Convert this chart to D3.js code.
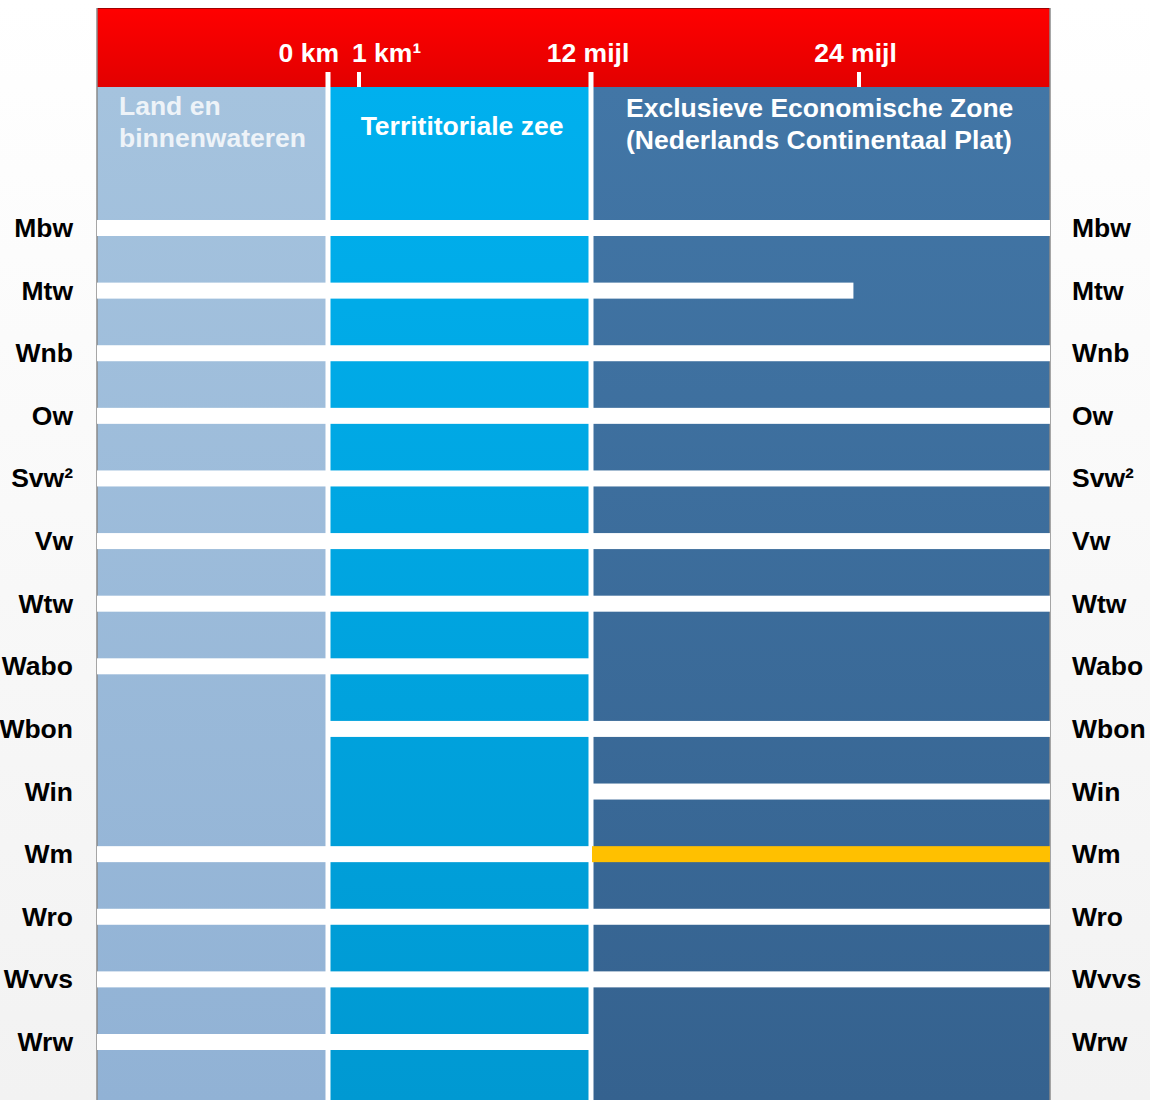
<!DOCTYPE html>
<html>
<head>
<meta charset="utf-8">
<script src="https://cdn.jsdelivr.net/npm/d3@7"></script>
<style>
  body { margin: 0; background: #fff; }
  text { font-family: "Liberation Sans", Arial, sans-serif; font-weight: bold; }
</style>
</head>
<body>
<div id="chart"></div>
<script>
const w = 1150, h = 1100

// data
const laws = ["Mbw", "Mtw", "Wnb", "Ow", "Svw²", "Vw", "Wtw", "Wabo", "Wbon", "Win", "Wm", "Wro", "Wvvs", "Wrw"]
// distance stops in nautical miles (schematic): land edge, 0 km, 1 km, 12 mijl, 24 mijl, outer edge
const stops = [-9, 0, 0.54, 12, 24, 31]
const tickLabels = ["0 km", "1 km¹", "12 mijl", "24 mijl"]
const tickValues = [0, 0.54, 12, 24]
const zoneNames = [["Land en", "binnenwateren"], ["Territitoriale zee"], ["Exclusieve Economische Zone", "(Nederlands Continentaal Plat)"]]
const zoneFrom = [-9, 0, 12]
const zoneTo = [0, 12, 31]
// where each law applies: [from, to, kind]
const coverage = {
    "Mbw": [[-9, 31, "w"]],
    "Mtw": [[-9, 23.75, "w"]],
    "Wnb": [[-9, 31, "w"]],
    "Ow": [[-9, 31, "w"]],
    "Svw²": [[-9, 31, "w"]],
    "Vw": [[-9, 31, "w"]],
    "Wtw": [[-9, 31, "w"]],
    "Wabo": [[-9, 12, "w"]],
    "Wbon": [[0, 31, "w"]],
    "Win": [[12, 31, "w"]],
    "Wm": [[-9, 12, "w"], [12, 31, "y"]],
    "Wro": [[-9, 31, "w"]],
    "Wvvs": [[-9, 31, "w"]],
    "Wrw": [[-9, 12, "w"]]
}

//scales
const x = d3.scaleLinear()
    .domain(stops)
    .range([97, 328, 359, 591, 859, 1050])

const y = d3.scalePoint()
    .domain(laws)
    .range([228, 1042])

const headTop = 8, headBottom = 87
const fs = 26.5

const svg = d3.select("#chart").append("svg")
    .attr("width", w)
    .attr("height", h)

const defs = svg.append("defs")
function grad(id, c1, c2, y1, y2) {
    const g = defs.append("linearGradient").attr("id", id)
        .attr("gradientUnits", "userSpaceOnUse")
        .attr("x1", 0).attr("x2", 0).attr("y1", y1).attr("y2", y2)
    g.append("stop").attr("offset", 0).attr("stop-color", c1)
    g.append("stop").attr("offset", 1).attr("stop-color", c2)
}
grad("bg", "#ffffff", "#f2f2f2", 0, h)
grad("red", "#ff0000", "#e20000", headTop, headBottom)
const zoneFill = [["#a5c3de", "#91b2d5"], ["#00b0ee", "#0099d2"], ["#4276a6", "#35628f"]]
zoneFill.forEach((c, i) => grad("zone" + i, c[0], c[1], headBottom, h))

svg.append("rect").attr("width", w).attr("height", h).attr("fill", "url(#bg)")

// zone columns
svg.selectAll("rect.zone")
    .data(zoneFrom)
    .enter()
    .append("rect")
    .attr("class", "zone")
    .attr("x", d => x(d))
    .attr("y", headBottom)
    .attr("width", (d, i) => x(zoneTo[i]) - x(d))
    .attr("height", h - headBottom)
    .attr("fill", (d, i) => "url(#zone" + i + ")")

// red header
svg.append("rect")
    .attr("x", x(stops[0]))
    .attr("y", headTop)
    .attr("width", x(stops[stops.length - 1]) - x(stops[0]))
    .attr("height", headBottom - headTop)
    .attr("fill", "url(#red)")
svg.append("line")
    .attr("x1", x(stops[0])).attr("x2", x(stops[stops.length - 1]))
    .attr("y1", headTop + 0.5).attr("y2", headTop + 0.5)
    .attr("stroke", "#a00000").attr("stroke-width", 1)

// frame edges
svg.selectAll("line.edge")
    .data([stops[0], stops[stops.length - 1]])
    .enter()
    .append("line")
    .attr("class", "edge")
    .attr("x1", d => x(d)).attr("x2", d => x(d))
    .attr("y1", headTop).attr("y2", h)
    .attr("stroke", "#8a8a8a").attr("stroke-width", 1.5)

// ticks (0 km and 12 mijl run down as zone borders)
svg.selectAll("line.tick")
    .data(tickValues)
    .enter()
    .append("line")
    .attr("class", "tick")
    .attr("x1", d => x(d)).attr("x2", d => x(d))
    .attr("y1", 72)
    .attr("y2", d => (d === 0 || d === 12) ? h : headBottom)
    .attr("stroke", "white")
    .attr("stroke-width", d => (d === 0 || d === 12) ? 5 : 4)

const tickAnchor = ["end", "start", "middle", "middle"]
const tickDx = [11, -7, -3, -3.5]
svg.selectAll("text.ticklabel")
    .data(tickValues)
    .enter()
    .append("text")
    .attr("class", "ticklabel")
    .attr("x", (d, i) => x(d) + tickDx[i])
    .attr("y", 62)
    .attr("text-anchor", (d, i) => tickAnchor[i])
    .attr("font-size", fs)
    .attr("fill", "white")
    .text((d, i) => tickLabels[i])

// zone labels
const zoneLabelX = [119, 462, 626]
const zoneLabelY = [115, 135, 117]
const zoneLabelAnchor = ["start", "middle", "start"]
zoneNames.forEach((lines, i) => {
    const t = svg.append("text")
        .attr("x", zoneLabelX[i])
        .attr("y", zoneLabelY[i])
        .attr("text-anchor", zoneLabelAnchor[i])
        .attr("font-size", fs)
        .attr("fill", i === 0 ? "#eef3f8" : "white")
    lines.forEach((s, j) => {
        t.append("tspan").attr("x", zoneLabelX[i]).attr("dy", j === 0 ? 0 : 32).text(s)
    })
})

// law bars
const segs = []
laws.forEach(l => coverage[l].forEach(s => segs.push({ law: l, from: s[0], to: s[1], kind: s[2] })))
svg.selectAll("rect.law")
    .data(segs)
    .enter()
    .append("rect")
    .attr("class", "law")
    .attr("x", d => x(d.from) + (d.kind === "y" ? 1 : 0))
    .attr("y", d => y(d.law) - 8)
    .attr("width", d => x(d.to) - x(d.from) - (d.kind === "y" ? 1 : 0))
    .attr("height", 16)
    .attr("fill", d => d.kind === "y" ? "#ffc000" : "white")

// law labels left and right
svg.selectAll("text.left")
    .data(laws)
    .enter()
    .append("text")
    .attr("class", "left")
    .attr("x", 73)
    .attr("y", d => y(d) + 9)
    .attr("text-anchor", "end")
    .attr("font-size", fs)
    .attr("fill", "black")
    .text(d => d)

svg.selectAll("text.right")
    .data(laws)
    .enter()
    .append("text")
    .attr("class", "right")
    .attr("x", 1072)
    .attr("y", d => y(d) + 9)
    .attr("font-size", fs)
    .attr("fill", "black")
    .text(d => d)
</script>
</body>
</html>
